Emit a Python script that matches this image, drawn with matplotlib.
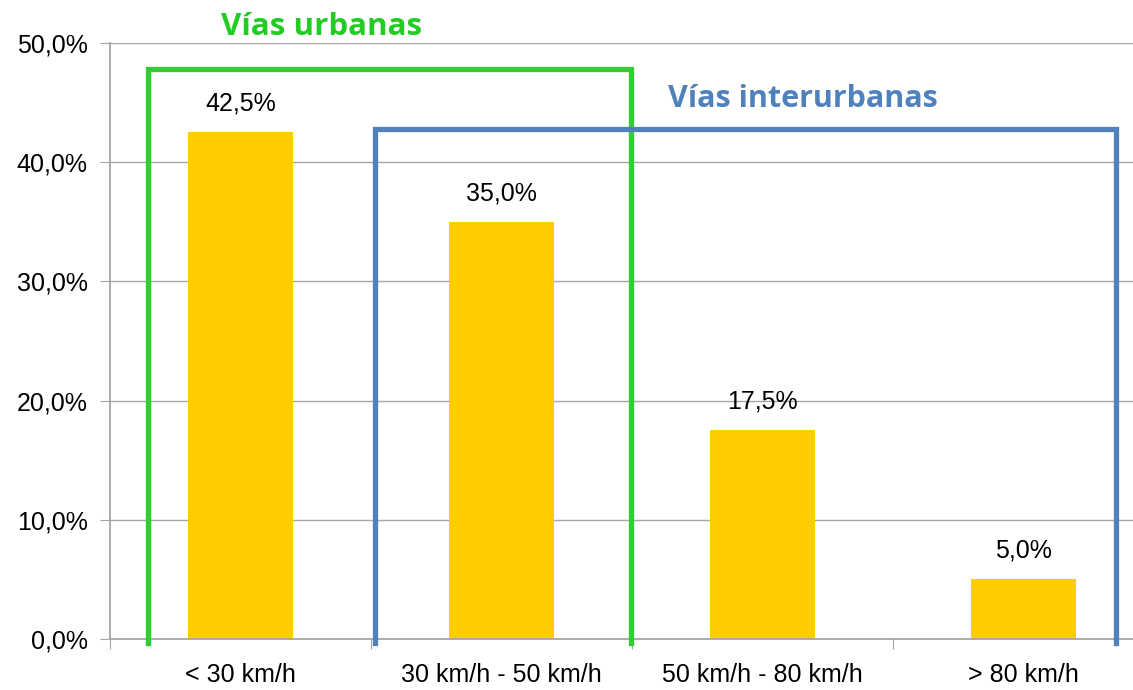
import matplotlib
matplotlib.use('Agg')
import matplotlib.pyplot as plt
from matplotlib.ticker import FuncFormatter

categories = ["< 30 km/h", "30 km/h - 50 km/h", "50 km/h - 80 km/h", "> 80 km/h"]
values = [42.5, 35.0, 17.5, 5.0]
y_ticks = [0, 10, 20, 30, 40, 50]

BAR_COLOR = "#FFCC00"
GREEN = "#33CC33"
BLUE = "#4F81BD"
GRID = "#A6A6A6"


def pct(v, _pos=None):
    return f"{v:.1f}%".replace(".", ",")


fig = plt.figure(figsize=(11.33, 6.9), dpi=100)
ax = fig.add_axes([110 / 1133, 51 / 690, 1044 / 1133, 596 / 690])

x = list(range(len(categories)))
ax.bar(x, values, width=0.40, color=BAR_COLOR, zorder=2)
for xi, v in zip(x, values):
    ax.annotate(pct(v), (xi, v), xytext=(0, 12), textcoords="offset points",
                ha="center", va="bottom", fontsize=18, family="Liberation Sans")

ax.set_xlim(-0.5, len(categories) - 0.5)
ax.set_ylim(0, 50)
ax.set_yticks(y_ticks)
ax.yaxis.set_major_formatter(FuncFormatter(pct))
ax.grid(axis="y", color=GRID, linewidth=1, zorder=0)
ax.set_axisbelow(True)

# category boundaries carry the x ticks, labels sit centred under each bar
ax.set_xticks([i - 0.5 for i in range(len(categories) + 1)])
ax.set_xticklabels([])
ax.set_xticks(x, minor=True)
ax.set_xticklabels(categories, minor=True)
ax.tick_params(axis="x", which="minor", length=0, pad=17, labelsize=18)
ax.tick_params(axis="x", which="major", length=7, color=GRID)
ax.tick_params(axis="y", length=7, color=GRID, labelsize=18, pad=9)
for lab in ax.get_xticklabels(minor=True) + ax.get_yticklabels():
    lab.set_family("Liberation Sans")

for side in ("top", "right"):
    ax.spines[side].set_visible(False)
for side in ("left", "bottom"):
    ax.spines[side].set_color(GRID)
    ax.spines[side].set_linewidth(1.3)

# road type brackets
ax.plot([-0.354, -0.354, 1.496, 1.496], [-0.3, 47.8, 47.8, -0.3],
        color=GREEN, linewidth=3.8, clip_on=False, zorder=3,
        solid_joinstyle="miter")
ax.plot([0.515, 0.515, 3.354, 3.354], [-0.3, 42.8, 42.8, -0.3],
        color=BLUE, linewidth=3.8, clip_on=False, zorder=3,
        solid_joinstyle="miter")

fig.text(322 / 1133, 1 - 27 / 690, "Vías urbanas", color="#22CC22",
         fontsize=22.5, fontweight="bold", family="Open Sans",
         ha="center", va="center")
fig.text(803 / 1133, 1 - 99 / 690, "Vías interurbanas", color=BLUE,
         fontsize=22, fontweight="bold", family="Open Sans",
         ha="center", va="center")

fig.savefig("out.png", dpi=100)
